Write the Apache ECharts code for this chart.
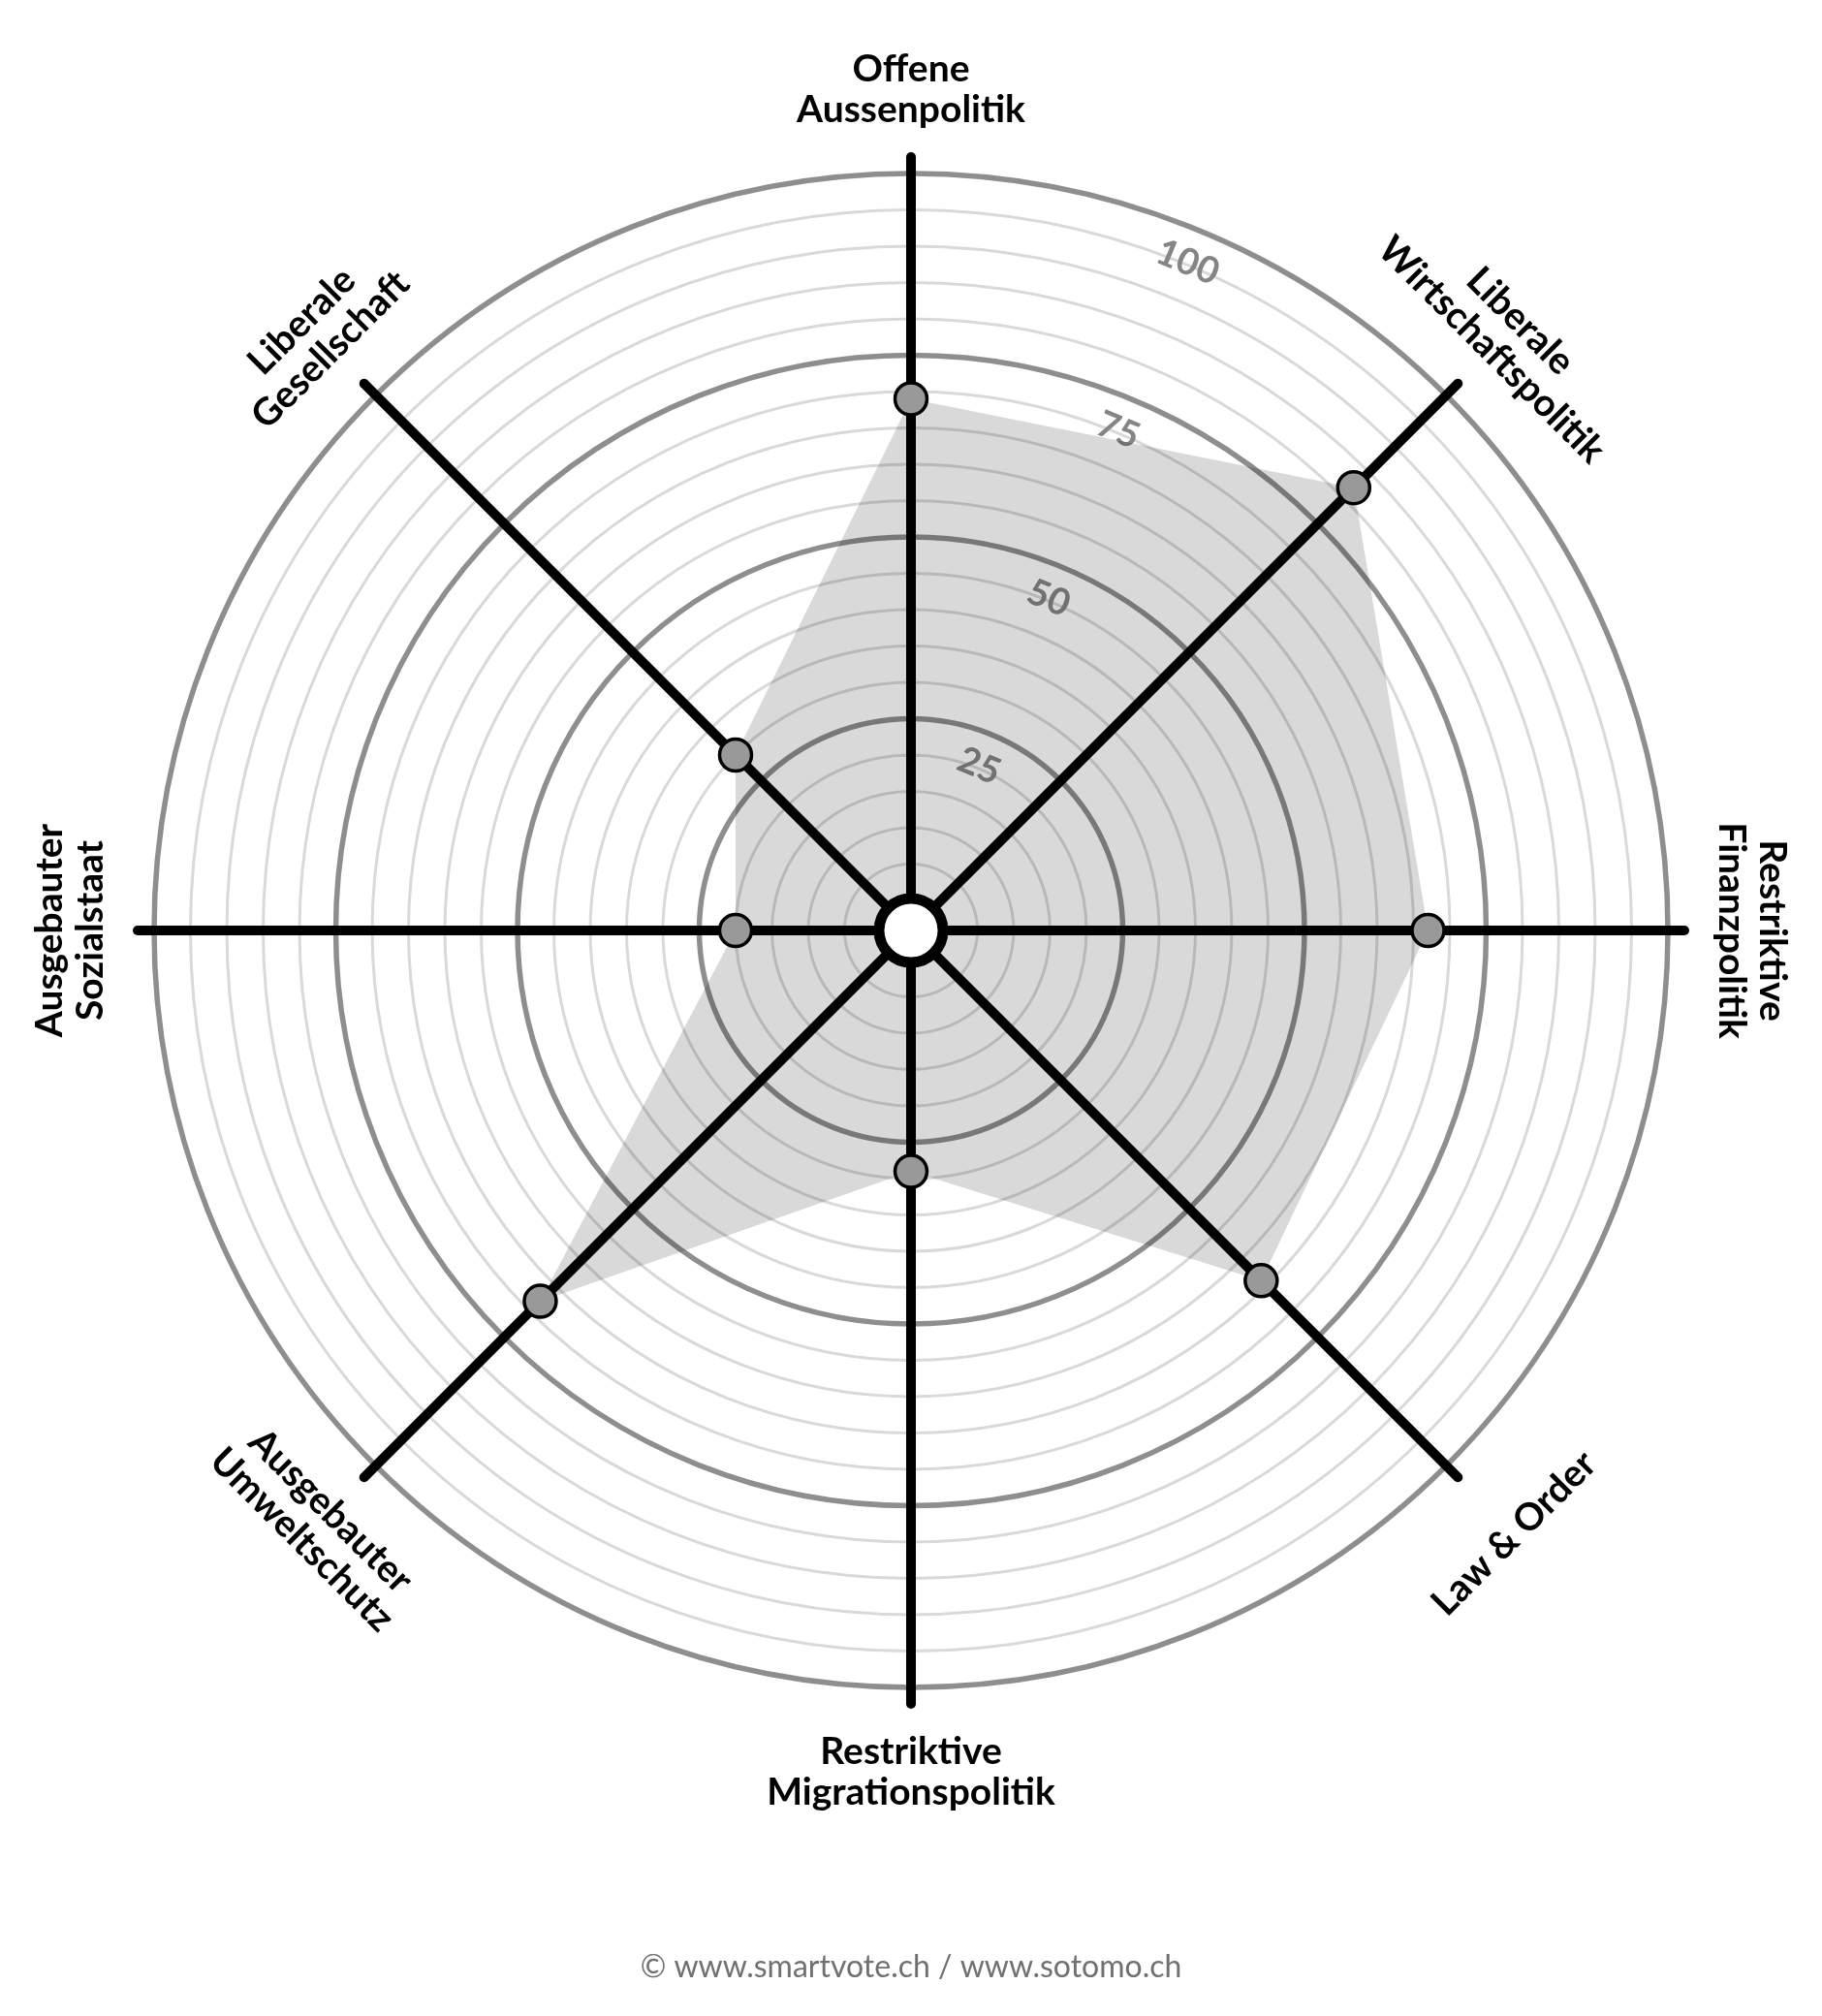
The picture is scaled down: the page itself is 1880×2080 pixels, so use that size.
<!DOCTYPE html>
<html>
<head>
<meta charset="utf-8">
<script src="https://cdn.jsdelivr.net/npm/echarts@6/dist/echarts.min.js"></script>
<style>
  html, body { margin: 0; padding: 0; background: #ffffff; }
  #chart { width: 1880px; height: 2080px; }
</style>
</head>
<body>
<div id="chart"></div>
<script>
// ---- data ----
const categories = [
  'Offene Aussenpolitik',
  'Liberale Gesellschaft',
  'Ausgebauter Sozialstaat',
  'Ausgebauter Umweltschutz',
  'Restriktive Migrationspolitik',
  'Law & Order',
  'Restriktive Finanzpolitik',
  'Liberale Wirtschaftspolitik'
];
const axisLabels = [
  'Offene\nAussenpolitik',
  'Liberale\nGesellschaft',
  'Ausgebauter\nSozialstaat',
  'Ausgebauter\nUmweltschutz',
  'Restriktive\nMigrationspolitik',
  'Law & Order',
  'Restriktive\nFinanzpolitik',
  'Liberale\nWirtschaftspolitik'
];
const values = [69, 30, 20, 68, 29, 64, 67, 82];
const tickValues = [25, 50, 75, 100];
const creditText = '© www.smartvote.ch / www.sotomo.ch';

// ---- layout ----
const CX = 940, CY = 960;
const R0 = 31, R1 = 781, RAXIS = 798;
const LABEL_R2 = 868, LABEL_R1 = 880;
const FONT = 'Lato, "Open Sans", sans-serif';

const chart = echarts.init(document.getElementById('chart'), null, { renderer: 'canvas' });

const indicator = categories.map(n => ({ name: n, min: 0, max: 100 }));

function baseRadar(extra) {
  return Object.assign({
    center: [CX, CY],
    radius: [R0, R1],
    startAngle: 90,
    shape: 'circle',
    indicator: indicator,
    axisName: { show: false },
    axisLabel: { show: false },
    axisTick: { show: false },
    splitArea: { show: false },
    axisLine: { show: false }
  }, extra);
}

const graphics = [];
// axis name labels
axisLabels.forEach((txt, i) => {
  const deg = 90 + i * 45;
  const norm = ((deg % 360) + 360) % 360;
  const lower = norm > 180 && norm < 360;
  const rad = deg * Math.PI / 180;
  const rr = txt.indexOf('\n') >= 0 ? LABEL_R2 : LABEL_R1;
  const rot = lower ? (deg + 90) : (deg - 90);
  graphics.push({
    type: 'text',
    x: CX + rr * Math.cos(rad),
    y: CY - rr * Math.sin(rad),
    rotation: rot * Math.PI / 180,
    silent: true,
    style: {
      text: txt,
      font: 'bold 39px ' + FONT,
      fill: '#000',
      textAlign: 'center',
      textVerticalAlign: 'middle',
      align: 'center',
      verticalAlign: 'middle',
      lineHeight: 42
    }
  });
});
// tick labels
tickValues.forEach(v => {
  const rr = R0 + v * (R1 - R0) / 100 - 35;
  const rad = 67.5 * Math.PI / 180;
  graphics.push({
    type: 'text',
    x: CX + rr * Math.cos(rad),
    y: CY - rr * Math.sin(rad),
    rotation: -22.5 * Math.PI / 180,
    silent: true,
    z: 1,
    style: {
      text: String(v),
      font: 'bold 38px ' + FONT,
      fill: '#858585',
      textAlign: 'center',
      textVerticalAlign: 'middle',
      align: 'center',
      verticalAlign: 'middle'
    }
  });
});
// credit
graphics.push({
  type: 'text',
  x: CX,
  y: 2030,
  silent: true,
  style: {
    text: creditText,
    font: '32px ' + FONT,
    fill: '#707070',
    textAlign: 'center',
    textVerticalAlign: 'middle',
    align: 'center',
    verticalAlign: 'middle'
  }
});

const option = {
  backgroundColor: '#ffffff',
  animation: false,
  radar: [
    baseRadar({
      z: 0,
      splitNumber: 20,
      splitLine: { show: true, lineStyle: { color: '#d9d9d9', width: 3 } }
    }),
    baseRadar({
      z: 0.5,
      splitNumber: 4,
      splitLine: { show: true, lineStyle: { color: '#8e8e8e', width: 5.5 } }
    }),
    baseRadar({
      z: 1,
      radius: [0, RAXIS],
      splitNumber: 4,
      splitLine: { show: false },
      axisLine: { show: true, lineStyle: { color: '#000', width: 10, cap: 'round' } }
    })
  ],
  series: [
    {
      type: 'radar',
      radarIndex: 0,
      z: 2,
      silent: true,
      symbol: 'circle',
      symbolSize: 33,
      data: [{
        value: values,
        name: 'Profil',
        areaStyle: { color: 'rgba(0,0,0,0.21)' },
        lineStyle: { width: 0, opacity: 0 },
        itemStyle: { color: '#999999', borderColor: '#000', borderWidth: 3.5 }
      }]
    },
    {
      type: 'pie',
      z: 3,
      silent: true,
      center: [CX, CY],
      radius: [0, 33],
      label: { show: false },
      labelLine: { show: false },
      itemStyle: { color: '#ffffff', borderColor: '#000', borderWidth: 11 },
      data: [{ value: 1, name: 'center' }]
    }
  ],
  graphic: graphics
};

chart.setOption(option);
</script>
</body>
</html>
